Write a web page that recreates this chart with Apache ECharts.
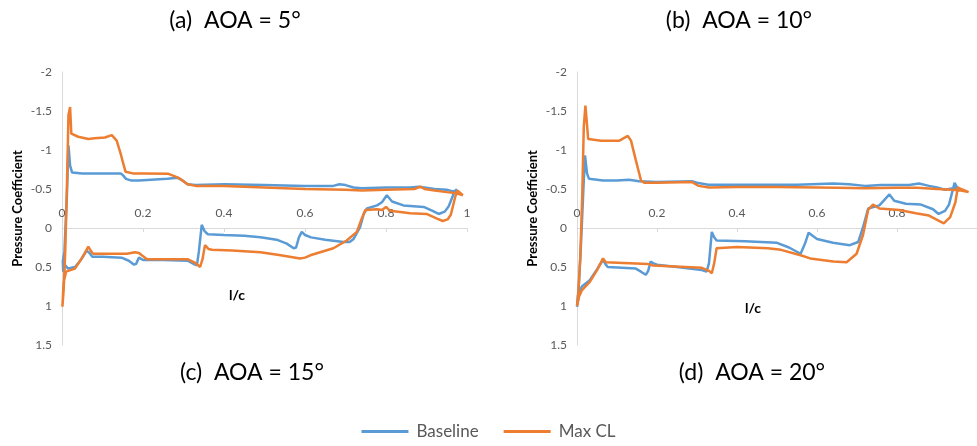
<!DOCTYPE html>
<html>
<head>
<meta charset="utf-8">
<script src="https://cdn.jsdelivr.net/npm/echarts@6/dist/echarts.min.js"></script>
<style>
  html, body { margin: 0; padding: 0; background: #fff; }
  #main { width: 977px; height: 446px; }
</style>
</head>
<body>
<div id="main"></div>
<script>
// x ticks (l/c) and y ticks (Cp, axis reversed)
var xTicks = [0, 0.2, 0.4, 0.6, 0.8, 1];
var yTicks = [-2, -1.5, -1, -0.5, 0, 0.5, 1, 1.5];

var panelTitles = ['(a)  AOA = 5°', '(b)  AOA = 10°', '(c)  AOA = 15°', '(d)  AOA = 20°'];
var seriesNames = ['Baseline', 'Max CL'];

// chart (a) - [l/c, Cp], upper surface TE -> LE, then lower surface LE -> TE
var baselineA = [
  [0.975, -0.48], [0.965, -0.47], [0.95, -0.49], [0.92, -0.50], [0.895, -0.52], [0.88, -0.53],
  [0.86, -0.52], [0.80, -0.52], [0.74, -0.51], [0.72, -0.52], [0.70, -0.55], [0.685, -0.56],
  [0.67, -0.54], [0.60, -0.54], [0.50, -0.55], [0.40, -0.56], [0.33, -0.55], [0.31, -0.56],
  [0.30, -0.60], [0.285, -0.645], [0.26, -0.63], [0.22, -0.62], [0.19, -0.61], [0.17, -0.61],
  [0.158, -0.63], [0.15, -0.68], [0.145, -0.70], [0.10, -0.70], [0.05, -0.70], [0.025, -0.71],
  [0.02, -0.80], [0.016, -1.06], [0.012, -0.4], [0.006, 0.3], [0.002, 0.43], [0.003, 0.56],
  [0.008, 0.48], [0.015, 0.52], [0.032, 0.50], [0.045, 0.42], [0.061, 0.29], [0.068, 0.32],
  [0.075, 0.37], [0.10, 0.37], [0.147, 0.38], [0.165, 0.42], [0.178, 0.47], [0.183, 0.46],
  [0.19, 0.38], [0.20, 0.41], [0.25, 0.41], [0.31, 0.42], [0.325, 0.46], [0.333, 0.48],
  [0.338, 0.30], [0.345, -0.04], [0.352, 0.04], [0.36, 0.08], [0.40, 0.09], [0.45, 0.10],
  [0.49, 0.12], [0.53, 0.15], [0.555, 0.20], [0.572, 0.26], [0.578, 0.25], [0.585, 0.12],
  [0.592, 0.05], [0.60, 0.09], [0.615, 0.12], [0.65, 0.15], [0.695, 0.18], [0.71, 0.18],
  [0.72, 0.14], [0.736, -0.01], [0.745, -0.18], [0.753, -0.25], [0.778, -0.29], [0.79, -0.33],
  [0.802, -0.42], [0.815, -0.34], [0.843, -0.29], [0.893, -0.27], [0.915, -0.22], [0.93, -0.18],
  [0.945, -0.21], [0.955, -0.28], [0.967, -0.44], [0.975, -0.50]
];
var maxClA = [
  [0.99, -0.42], [0.97, -0.45], [0.95, -0.46], [0.92, -0.48], [0.895, -0.50], [0.885, -0.53],
  [0.87, -0.50], [0.80, -0.49], [0.74, -0.48], [0.70, -0.49], [0.60, -0.50], [0.50, -0.52],
  [0.40, -0.54], [0.33, -0.54], [0.31, -0.56], [0.295, -0.62], [0.285, -0.65], [0.263, -0.695],
  [0.20, -0.70], [0.175, -0.70], [0.157, -0.72], [0.15, -0.85], [0.145, -0.95], [0.135, -1.12],
  [0.123, -1.19], [0.106, -1.16], [0.08, -1.15], [0.065, -1.14], [0.04, -1.17], [0.023, -1.21],
  [0.02, -1.55], [0.016, -1.45], [0.012, -0.5], [0.008, 0.3], [0.004, 0.8], [0.001, 1.01],
  [0.004, 0.7], [0.01, 0.56], [0.032, 0.52], [0.05, 0.38], [0.065, 0.24], [0.072, 0.30],
  [0.077, 0.33], [0.12, 0.33], [0.16, 0.33], [0.18, 0.31], [0.19, 0.32], [0.197, 0.35],
  [0.21, 0.40], [0.31, 0.40], [0.33, 0.45], [0.341, 0.50], [0.347, 0.40], [0.353, 0.22],
  [0.362, 0.27], [0.37, 0.28], [0.42, 0.29], [0.49, 0.31], [0.54, 0.35], [0.588, 0.39],
  [0.60, 0.38], [0.613, 0.35], [0.67, 0.26], [0.703, 0.16], [0.728, 0.05], [0.74, -0.12],
  [0.749, -0.23], [0.778, -0.24], [0.79, -0.23], [0.80, -0.27], [0.81, -0.22], [0.86, -0.19],
  [0.90, -0.18], [0.926, -0.12], [0.94, -0.09], [0.952, -0.11], [0.96, -0.17], [0.971, -0.40],
  [0.976, -0.48], [0.99, -0.42]
];

// chart (b)
var baselineB = [
  [0.95, -0.52], [0.94, -0.51], [0.92, -0.49], [0.90, -0.52], [0.88, -0.54], [0.855, -0.57],
  [0.83, -0.55], [0.76, -0.55], [0.72, -0.54], [0.68, -0.56], [0.641, -0.57], [0.55, -0.555],
  [0.50, -0.555], [0.40, -0.555], [0.328, -0.555], [0.30, -0.58], [0.287, -0.60], [0.20, -0.59],
  [0.155, -0.60], [0.13, -0.62], [0.10, -0.61], [0.065, -0.61], [0.03, -0.63], [0.025, -0.70],
  [0.02, -0.93], [0.016, -0.5], [0.01, 0.2], [0.005, 0.7], [0.0, 1.01], [0.005, 0.85],
  [0.012, 0.75], [0.032, 0.67], [0.05, 0.53], [0.065, 0.41], [0.072, 0.47], [0.077, 0.50],
  [0.147, 0.52], [0.16, 0.56], [0.172, 0.60], [0.178, 0.55], [0.184, 0.43], [0.19, 0.45],
  [0.20, 0.47], [0.25, 0.50], [0.312, 0.54], [0.324, 0.56], [0.33, 0.45], [0.337, 0.05],
  [0.343, 0.12], [0.349, 0.16], [0.42, 0.17], [0.50, 0.19], [0.53, 0.25], [0.559, 0.33],
  [0.57, 0.20], [0.579, 0.06], [0.60, 0.14], [0.64, 0.19], [0.682, 0.22], [0.703, 0.18],
  [0.715, -0.01], [0.728, -0.25], [0.756, -0.29], [0.781, -0.43], [0.793, -0.35], [0.822, -0.31],
  [0.86, -0.30], [0.89, -0.24], [0.904, -0.18], [0.92, -0.22], [0.93, -0.30], [0.937, -0.44],
  [0.944, -0.58], [0.95, -0.52]
];
var maxClB = [
  [0.979, -0.46], [0.96, -0.48], [0.937, -0.49], [0.90, -0.50], [0.85, -0.515], [0.80, -0.515],
  [0.72, -0.51], [0.65, -0.515], [0.50, -0.525], [0.40, -0.525], [0.33, -0.52], [0.304, -0.54],
  [0.287, -0.59], [0.20, -0.58], [0.168, -0.58], [0.16, -0.61], [0.153, -0.75], [0.147, -0.87],
  [0.135, -1.12], [0.127, -1.18], [0.106, -1.12], [0.06, -1.12], [0.028, -1.14], [0.021, -1.57],
  [0.017, -1.3], [0.013, -0.4], [0.008, 0.4], [0.003, 0.85], [0.0, 1.0], [0.005, 0.88],
  [0.012, 0.80], [0.032, 0.69], [0.05, 0.54], [0.065, 0.39], [0.072, 0.44], [0.077, 0.46],
  [0.177, 0.46], [0.19, 0.48], [0.312, 0.51], [0.33, 0.55], [0.337, 0.58], [0.343, 0.45],
  [0.349, 0.26], [0.40, 0.245], [0.477, 0.26], [0.51, 0.28], [0.559, 0.35], [0.583, 0.39],
  [0.641, 0.43], [0.674, 0.44], [0.699, 0.33], [0.715, 0.09], [0.728, -0.235], [0.74, -0.30],
  [0.756, -0.25], [0.806, -0.23], [0.847, -0.19], [0.88, -0.16], [0.917, -0.06], [0.933, -0.14],
  [0.946, -0.33], [0.952, -0.52], [0.96, -0.50], [0.979, -0.46]
];

var blue = '#5B9BD5';
var orange = '#ED7D31';
var font = 'Lato';
var gridTop = 72, gridHeight = 273;
var yMin = yTicks[0], yMax = yTicks[yTicks.length - 1];
// x axis sits on Cp = 0 with its labels above (Excel style on a reversed axis)
var zeroOffset = -(0 - yMin) / (yMax - yMin) * gridHeight;

function makeX(idx, showLast) {
  return {
    type: 'value', gridIndex: idx, position: 'top', offset: zeroOffset,
    min: xTicks[0], max: xTicks[xTicks.length - 1], interval: 0.2,
    axisLine: { onZero: false, lineStyle: { color: '#D9D9D9', width: 1 } },
    axisTick: { show: true, inside: true, length: 4, lineStyle: { color: '#D9D9D9' } },
    axisLabel: { color: '#595959', fontSize: 12, fontFamily: font, margin: 9, showMaxLabel: showLast },
    splitLine: { show: false }
  };
}
function makeY(idx) {
  return {
    type: 'value', gridIndex: idx, inverse: true,
    min: yMin, max: yMax, interval: 0.5,
    name: 'Pressure Coefficient', nameLocation: 'middle', nameGap: 38,
    nameTextStyle: { fontFamily: font, fontWeight: 'bold', fontSize: 13, color: '#000' },
    axisLine: { show: true, onZero: false, lineStyle: { color: '#D9D9D9', width: 1 } },
    axisTick: { show: false },
    axisLabel: { color: '#595959', fontSize: 12, fontFamily: font, margin: 10 },
    splitLine: { show: false }
  };
}
function makeSeries(name, data, color, idx) {
  return {
    name: name, type: 'line', data: data, xAxisIndex: idx, yAxisIndex: idx,
    symbol: 'none', smooth: false, color: color,
    lineStyle: { color: color, width: 2.5 }
  };
}
function label(text, x, y, f) {
  return {
    type: 'text', x: x, y: y,
    style: { text: text, fill: '#000', font: f, align: 'center', verticalAlign: 'middle' }
  };
}

var chart = echarts.init(document.getElementById('main'));
chart.setOption({
  backgroundColor: '#fff',
  animation: false,
  grid: [
    { left: 62, top: gridTop, width: 405, height: gridHeight },
    { left: 577, top: gridTop, width: 405, height: gridHeight }
  ],
  xAxis: [makeX(0, true), makeX(1, false)],
  yAxis: [makeY(0), makeY(1)],
  legend: {
    data: seriesNames, bottom: 1, left: 'center',
    icon: 'rect', itemWidth: 47, itemHeight: 3, itemGap: 25,
    textStyle: { color: '#595959', fontSize: 17, fontFamily: font, padding: [0, 0, 0, 3] }
  },
  graphic: [
    label(panelTitles[0], 235, 21, '23px ' + font),
    label(panelTitles[1], 739, 21, '23px ' + font),
    label(panelTitles[2], 252, 373, '23px ' + font),
    label(panelTitles[3], 752, 373, '23px ' + font),
    label('l/c', 237, 295, 'bold 14px ' + font),
    label('l/c', 753, 308, 'bold 14px ' + font)
  ],
  series: [
    makeSeries(seriesNames[0], baselineA, blue, 0),
    makeSeries(seriesNames[1], maxClA, orange, 0),
    makeSeries(seriesNames[0], baselineB, blue, 1),
    makeSeries(seriesNames[1], maxClB, orange, 1)
  ]
});
</script>
</body>
</html>
